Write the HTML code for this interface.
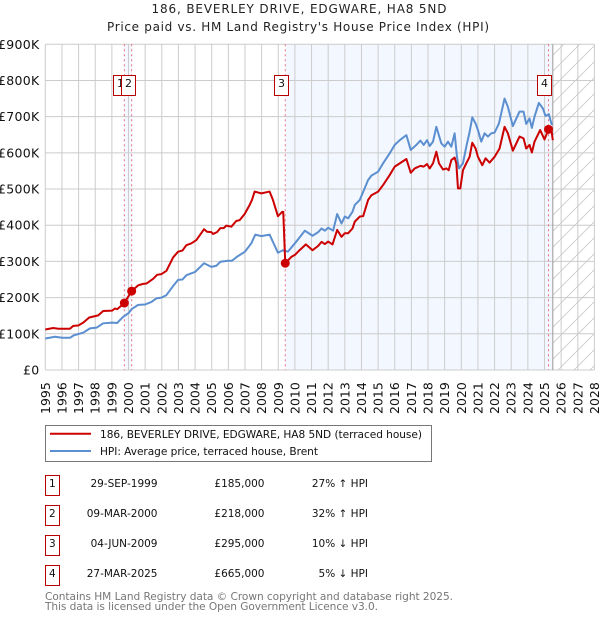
<!DOCTYPE html>
<html>
<head>
<meta charset="utf-8">
<title>186, Beverley Drive price chart</title>
<style>
html,body{margin:0;padding:0;background:#fff;width:600px;height:620px;overflow:hidden}
svg{display:block;font-family:"DejaVu Sans",sans-serif}
</style>
</head>
<body>
<svg id="chart" xmlns="http://www.w3.org/2000/svg" width="600" height="620" viewBox="0 0 600 620">
<defs>
<pattern id="hatch" patternUnits="userSpaceOnUse" width="16" height="16">
<path d="M-2 18 L18 -2" stroke="#d0d0d0" stroke-width="1" fill="none"/>
</pattern>
</defs>
<text x="151.5" y="13" font-size="12" fill="#222" textLength="295" lengthAdjust="spacing">186, BEVERLEY DRIVE, EDGWARE, HA8 5ND</text>
<text x="107" y="31" font-size="12" fill="#222" textLength="382" lengthAdjust="spacing">Price paid vs. HM Land Registry's House Price Index (HPI)</text>
<g id="plot"></g>

<g>
<rect x="45.5" y="425.5" width="386" height="36" fill="#fff" stroke="#777" stroke-width="1"/>
<line x1="50" x2="91" y1="433.7" y2="433.7" stroke="#cc0000" stroke-width="2"/>
<text x="100" y="438" font-size="10.6" fill="#111" textLength="322" lengthAdjust="spacing">186, BEVERLEY DRIVE, EDGWARE, HA8 5ND (terraced house)</text>
<line x1="50" x2="91" y1="451" y2="451" stroke="#5b8fd0" stroke-width="2"/>
<text x="100" y="455" font-size="10.6" fill="#111" textLength="218" lengthAdjust="spacing">HPI: Average price, terraced house, Brent</text>
</g>

<g font-size="10.5" fill="#111">
<g>
<rect x="45.5" y="475.5" width="14" height="20" fill="#fff" stroke="#b80000"/>
<text x="52.3" y="487" text-anchor="middle">1</text>
<text x="157.5" y="487" text-anchor="end">29-SEP-1999</text>
<text x="264.5" y="487" text-anchor="end">£185,000</text>
<text x="368" y="487" text-anchor="end">27% ↑ HPI</text>
</g>
<g>
<rect x="45.5" y="505.5" width="14" height="20" fill="#fff" stroke="#b80000"/>
<text x="52.3" y="517" text-anchor="middle">2</text>
<text x="157.5" y="517" text-anchor="end">09-MAR-2000</text>
<text x="264.5" y="517" text-anchor="end">£218,000</text>
<text x="368" y="517" text-anchor="end">32% ↑ HPI</text>
</g>
<g>
<rect x="45.5" y="535.5" width="14" height="20" fill="#fff" stroke="#b80000"/>
<text x="52.3" y="547" text-anchor="middle">3</text>
<text x="157.5" y="547" text-anchor="end">04-JUN-2009</text>
<text x="264.5" y="547" text-anchor="end">£295,000</text>
<text x="368" y="547" text-anchor="end">10% ↓ HPI</text>
</g>
<g>
<rect x="45.5" y="565.5" width="14" height="20" fill="#fff" stroke="#b80000"/>
<text x="52.3" y="577" text-anchor="middle">4</text>
<text x="157.5" y="577" text-anchor="end">27-MAR-2025</text>
<text x="264.5" y="577" text-anchor="end">£665,000</text>
<text x="368" y="577" text-anchor="end">5% ↓ HPI</text>
</g>
</g>
<text x="45" y="600" font-size="10.6" fill="#777" textLength="408" lengthAdjust="spacing">Contains HM Land Registry data © Crown copyright and database right 2025.</text>
<text x="45" y="610" font-size="10.6" fill="#777" textLength="333" lengthAdjust="spacing">This data is licensed under the Open Government Licence v3.0.</text>
</svg>
<script>
var yearTicks = [1995,1996,1997,1998,1999,2000,2001,2002,2003,2004,2005,2006,2007,2008,2009,2010,2011,2012,2013,2014,2015,2016,2017,2018,2019,2020,2021,2022,2023,2024,2025,2026,2027,2028];
var priceTicks = [0,100,200,300,400,500,600,700,800,900];
var priceTickLabels = ["£0","£100K","£200K","£300K","£400K","£500K","£600K","£700K","£800K","£900K"];
var saleLabels = ["1","2","3","4"];
var saleDates = [1999.75,2000.19,2009.42,2025.24];
var salePrices = [185,218,295,665];
var dataEndDate = 2025.5;
var hpiDates = [1995,1995.58,1996.02,1996.48,1996.72,1997.28,1997.68,1998.08,1998.48,1999.02,1999.32,1999.68,2000,2000.18,2000.58,2001,2001.38,2001.68,2001.98,2002.28,2002.68,2002.98,2003.24,2003.48,2004,2004.54,2004.98,2005.28,2005.52,2005.98,2006.22,2006.52,2007,2007.38,2007.62,2007.98,2008.48,2008.98,2009.28,2009.58,2010,2010.28,2010.6,2011.06,2011.4,2011.6,2011.8,2012,2012.3,2012.54,2012.8,2013,2013.2,2013.46,2013.6,2013.9,2014.4,2014.6,2015,2015.3,2015.7,2016,2016.3,2016.7,2016.96,2017.3,2017.54,2017.74,2017.94,2018.1,2018.3,2018.5,2018.8,2019,2019.2,2019.4,2019.6,2019.74,2019.86,2020.1,2020.3,2020.5,2020.66,2020.86,2021,2021.2,2021.4,2021.6,2021.8,2022,2022.26,2022.6,2022.8,2023.1,2023.5,2023.74,2023.9,2024.1,2024.24,2024.4,2024.66,2024.9,2025.06,2025.26,2025.44];
var hpiValues = [87,92,89,89,96,103,115,117,129,131,130,147,157,168,180,181,188,198,200,207,232,249,250,262,271,295,285,288,299,302,302,313,327,350,374,370,374,324,331,327,350,366,385,371,381,391,385,393,385,431,405,424,419,437,456,470,525,537,548,571,599,622,635,649,608,622,634,622,635,619,631,672,626,617,631,617,654,589,557,571,617,658,698,681,663,631,654,645,654,656,681,750,727,674,714,714,680,695,669,700,738,723,702,707,677];
var paidDates = [1995,1995.48,1995.78,1996.48,1996.68,1996.98,1997.28,1997.64,1998.18,1998.48,1999.02,1999.18,1999.32,1999.75,2000.19,2000.58,2000.88,2001.08,2001.48,2001.72,2001.98,2002.28,2002.68,2002.98,2003.24,2003.48,2003.78,2004.08,2004.54,2004.72,2004.98,2005.08,2005.32,2005.52,2005.72,2005.88,2006.18,2006.48,2006.68,2006.98,2007.28,2007.42,2007.58,2007.98,2008.48,2008.68,2008.98,2009.24,2009.3,2009.42,2009.8,2010,2010.28,2010.66,2011.06,2011.4,2011.6,2011.8,2012,2012.26,2012.54,2012.8,2013,2013.2,2013.46,2013.6,2013.9,2014.1,2014.4,2014.6,2015,2015.3,2015.7,2016,2016.3,2016.7,2016.96,2017.2,2017.54,2017.74,2017.94,2018.1,2018.3,2018.5,2018.66,2018.9,2019.1,2019.24,2019.4,2019.6,2019.7,2019.8,2019.94,2020.1,2020.3,2020.5,2020.66,2020.86,2021,2021.26,2021.46,2021.7,2022,2022.3,2022.6,2022.8,2023.1,2023.5,2023.74,2023.9,2024.1,2024.24,2024.4,2024.74,2025,2025.24,2025.4,2025.5];
var paidValues = [112,116,114,114,122,123,131,145,151,163,164,170,168,185,218,234,238,239,252,263,265,274,311,327,330,345,350,359,389,382,381,376,381,392,392,399,396,412,414,431,456,470,493,488,493,470,425,437,437,295,313,318,331,347,331,343,354,348,355,347,387,368,378,378,391,410,424,425,470,483,493,511,539,562,571,583,545,557,564,562,569,557,571,603,571,554,557,552,580,587,571,502,502,552,571,589,628,612,589,566,585,573,589,612,672,654,606,645,640,612,622,601,631,663,637,665,668,635];

var NS = "http://www.w3.org/2000/svg";
var plot = document.getElementById("plot");
function xAxis(year){ return 45.3 + (year - 1995) * 16.64; }
function yAxis(value){ return 370 - value * 0.3619; }
function make(tag, attrs, parent){
  var el = document.createElementNS(NS, tag);
  for (var k in attrs) el.setAttribute(k, attrs[k]);
  (parent || plot).appendChild(el);
  return el;
}
var x0 = xAxis(1995), x1 = xAxis(2028), yTop = yAxis(900), yBase = yAxis(0);

var bandA = make("rect", {x:xAxis(saleDates[0]), y:yTop, width:xAxis(saleDates[1])-xAxis(saleDates[0]), height:yBase-yTop, fill:"#f3f7ff"});


var bandB = make("rect", {x:xAxis(saleDates[2]), y:yTop, width:xAxis(saleDates[3])-xAxis(saleDates[2]), height:yBase-yTop, fill:"#f3f7ff"});


var bandC = make("rect", {x:xAxis(saleDates[3]), y:yTop, width:xAxis(dataEndDate)-xAxis(saleDates[3]), height:yBase-yTop, fill:"#f3f7ff"});


var hatch = make("rect", {x:xAxis(dataEndDate), y:yTop, width:x1-xAxis(dataEndDate), height:yBase-yTop, fill:"url(#hatch)"});



yearTicks.forEach(function(year){
  var gx = make("line", {x1:xAxis(year), x2:xAxis(year), y1:yTop, y2:yBase, stroke:"#cccccc", "stroke-width":1});
  
  
  var tx = xAxis(year);
  var label = make("text", {x:0, y:0, transform:"translate("+(tx+4.5)+",414) rotate(-90)", "font-size":12.5, fill:"#111"});
  
  
  label.textContent = year;
});
priceTicks.forEach(function(value, i){
  var gy = make("line", {x1:x0, x2:x1, y1:yAxis(value), y2:yAxis(value), stroke:"#cccccc", "stroke-width":1});
  
  
  var label = make("text", {x:39.5, y:yAxis(value)+4.5, "text-anchor":"end", "font-size":12.5, "letter-spacing":0.3, fill:"#111"});
  
  
  label.textContent = priceTickLabels[i];
});

var endLine = make("line", {x1:xAxis(dataEndDate), x2:xAxis(dataEndDate), y1:yTop, y2:yBase, stroke:"#999999", "stroke-width":1});



saleDates.forEach(function(date){
  var v = make("line", {x1:xAxis(date), x2:xAxis(date), y1:yTop, y2:yBase, stroke:"#e8707a", "stroke-width":1, "stroke-dasharray":"2 3"});
  
  
});

function pathFrom(dates, values){
  return dates.map(function(d, i){ return (i ? "L" : "M") + xAxis(d).toFixed(2) + " " + yAxis(values[i]).toFixed(2); }).join(" ");
}
var hpiLine = make("path", {d:pathFrom(hpiDates, hpiValues), fill:"none", stroke:"#5b8fd0", "stroke-width":2, "stroke-linejoin":"round"});


var paidLine = make("path", {d:pathFrom(paidDates, paidValues), fill:"none", stroke:"#cc0000", "stroke-width":2, "stroke-linejoin":"round"});



saleDates.forEach(function(date, i){
  var dot = make("circle", {cx:xAxis(date), cy:yAxis(salePrices[i]), r:4.5, fill:"#cc0000"});
  
  
});
saleDates.forEach(function(date, i){
  var bx = Math.floor(xAxis(date) - 10.5) + 0.5;
  var box = make("rect", {x:bx, y:75.5, width:14, height:20, fill:"#fff", stroke:"#b80000", "stroke-width":1});
  
  
  var t = make("text", {x:bx+7, y:87, "text-anchor":"middle", "font-size":11, fill:"#111"});
  
  
  t.textContent = saleLabels[i];
});
</script>
</body>
</html>
